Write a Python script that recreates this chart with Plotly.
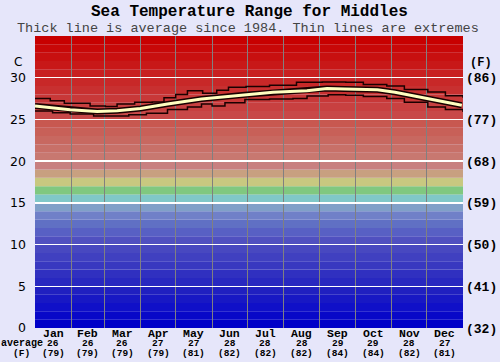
import plotly.graph_objects as go

# ---------------- data ----------------
months = ["Jan", "Feb", "Mar", "Apr", "May", "Jun", "Jul", "Aug", "Sep", "Oct", "Nov", "Dec"]
month_avg_c = ["26", "26", "26", "27", "27", "28", "28", "28", "29", "29", "28", "27"]
month_avg_f = ["(79)", "(79)", "(79)", "(79)", "(81)", "(82)", "(82)", "(82)", "(84)", "(84)", "(82)", "(81)"]
month_start_day = [0, 31, 59, 90, 120, 151, 181, 212, 243, 273, 304, 334, 365]

c_ticks = [0, 5, 10, 15, 20, 25, 30]
f_tick_labels = ["(32)", "(41)", "(50)", "(59)", "(68)", "(77)", "(86)"]

avg_day = [0, 13, 30, 53, 70, 90, 113, 142, 179, 203, 232, 249, 264, 292, 307, 335, 364]
avg_temp = [26.6, 26.4, 26.15, 25.95, 26.05, 26.3, 26.85, 27.45, 27.95, 28.25, 28.45, 28.7, 28.65, 28.55, 28.25, 27.45, 26.7]

max_day = [0, 13, 25, 47, 60, 70, 85, 100, 110, 120, 130, 143, 155, 165, 180, 200, 223, 245, 265, 280, 300, 315, 335, 350, 365]
max_temp = [27.5, 27.25, 26.95, 26.6, 26.55, 26.85, 27.05, 27.1, 27.6, 28.0, 28.45, 28.15, 28.5, 28.85, 28.95, 29.1, 29.45, 29.5, 29.45, 29.2, 29.0, 28.6, 28.3, 27.85, 27.6]

min_day = [0, 15, 30, 50, 65, 80, 95, 113, 130, 142, 151, 162, 179, 200, 220, 232, 250, 265, 280, 300, 315, 335, 350, 365]
min_temp = [26.0, 25.8, 25.65, 25.4, 25.4, 25.55, 25.75, 26.2, 26.5, 26.85, 26.6, 27.0, 27.4, 27.45, 27.5, 27.8, 27.95, 27.9, 27.75, 27.5, 27.05, 26.5, 26.2, 25.9]

# background temperature band colours (one per degree, 0..35 C)
band_colors = [
    "#0000c8", "#0808c8", "#1010c8", "#1818c4", "#2020c0", "#2828c0", "#3030c0", "#3838c0",
    "#4040c0", "#4848c0", "#5050c0", "#5860c4", "#6070c4", "#7080c8", "#80a0c8", "#80c8c8",
    "#80c880", "#c8c880", "#c8a080", "#c88080", "#c87870", "#c87068", "#c86860", "#c86058",
    "#c85850", "#c84848", "#c84040", "#c83838", "#c83030", "#c82828", "#c82020", "#c81818",
    "#c81010", "#c80808", "#c80000",
]

MONO = "Liberation Mono, DejaVu Sans Mono, monospace"
SANS = "DejaVu Sans, Verdana, sans-serif"

L, R, T, B = 35, 37, 36, 34
W, H = 500, 362
pw, ph = W - L - R, H - T - B


def px(x):
    return (x - L) / pw


def py(y):
    return (H - B - y) / ph


fig = go.Figure()

# band background
for i, col in enumerate(band_colors):
    fig.add_shape(type="rect", xref="x", yref="y", x0=0, x1=365, y0=i, y1=i + 1,
                  fillcolor=col, line_width=0, layer="below")

# extremes
fig.add_trace(go.Scatter(x=max_day, y=max_temp, mode="lines", line=dict(color="#1a0000", width=1.5, shape="hv"),
                         hoverinfo="skip", showlegend=False))
fig.add_trace(go.Scatter(x=min_day, y=min_temp, mode="lines", line=dict(color="#1a0000", width=1.5, shape="hv"),
                         hoverinfo="skip", showlegend=False))
# average: outline + fill
fig.add_trace(go.Scatter(x=avg_day, y=avg_temp, mode="lines", line=dict(color="#1a0000", width=6),
                         hoverinfo="skip", showlegend=False))
fig.add_trace(go.Scatter(x=avg_day, y=avg_temp, mode="lines", line=dict(color="#ffffc0", width=3),
                         hoverinfo="skip", showlegend=False))
# invisible trace for right axis
fig.add_trace(go.Scatter(x=[0], y=[0], yaxis="y2", mode="markers", marker=dict(opacity=0),
                         hoverinfo="skip", showlegend=False))

month_centers = [(month_start_day[i] + month_start_day[i + 1]) / 2 for i in range(12)]

annotations = []
for i in range(12):
    annotations.append(dict(x=month_centers[i], y=0, xref="x", yref="paper", yanchor="middle",
                            yshift=-5.5, text="<b>" + months[i] + "</b>", showarrow=False, borderpad=0,
                            font=dict(family=MONO, size=11.5, color="black")))
    annotations.append(dict(x=month_centers[i], y=0, xref="x", yref="paper", yanchor="middle",
                            yshift=-15.5, text="<b>" + month_avg_c[i] + "</b>", showarrow=False, borderpad=0,
                            font=dict(family=MONO, size=9.5, color="black")))
    annotations.append(dict(x=month_centers[i], y=0, xref="x", yref="paper", yanchor="middle",
                            yshift=-25, text="<b>" + month_avg_f[i] + "</b>", showarrow=False, borderpad=0,
                            font=dict(family=MONO, size=9.5, color="black")))

annotations += [
    dict(x=px(22), y=py(343.5), xref="paper", yref="paper", text="<b>average</b>", showarrow=False, borderpad=0,
         font=dict(family=MONO, size=10, color="black"), xanchor="center", yanchor="middle"),
    dict(x=px(21), y=py(353), xref="paper", yref="paper", text="<b>(F)</b>", showarrow=False, borderpad=0,
         font=dict(family=MONO, size=9.5, color="black"), xanchor="center", yanchor="middle"),
    dict(x=px(18), y=py(62), xref="paper", yref="paper", text="C", showarrow=False,
         font=dict(family=SANS, size=12, color="black"), xanchor="center", yanchor="middle"),
    dict(x=px(481), y=py(63), xref="paper", yref="paper", text="<b>(F)</b>", showarrow=False,
         font=dict(family=MONO, size=12, color="black"), xanchor="center", yanchor="middle"),
    dict(x=px(249), y=py(12), xref="paper", yref="paper", text="<b>Sea Temperature Range for Middles</b>",
         showarrow=False, borderpad=0, font=dict(family=MONO, size=16, color="black"),
         xanchor="center", yanchor="middle"),
    dict(x=px(248), y=py(28.5), xref="paper", yref="paper",
         text="Thick line is average since 1984. Thin lines are extremes", borderpad=0,
         showarrow=False, font=dict(family=MONO, size=13.5, color="#444444"), xanchor="center", yanchor="middle"),
]

fig.update_layout(
    width=W, height=H,
    margin=dict(l=L, r=R, t=T, b=B, autoexpand=False),
    paper_bgcolor="#e6e6fa",
    plot_bgcolor="#e6e6fa",
    showlegend=False,
    xaxis=dict(range=[0, 365], showticklabels=False, ticks="", showgrid=False, zeroline=False,
               showline=False, automargin=False,
               minor=dict(tickvals=month_start_day[1:-1], showgrid=True, gridcolor="#808080", gridwidth=1, ticks="")),
    yaxis=dict(range=[0, 35], tickvals=c_ticks, showgrid=True, gridcolor="white", gridwidth=1.5,
               zeroline=False, ticks="", tickfont=dict(family=SANS, size=12.5, color="black"),
               ticklabelstandoff=8, showline=False, automargin=False),
    yaxis2=dict(range=[0, 35], overlaying="y", side="right", tickvals=c_ticks, ticktext=f_tick_labels,
                showgrid=False, zeroline=False, ticks="", automargin=False,
                tickfont=dict(family=MONO, size=13, color="black", weight="bold"), ticklabelstandoff=2),
    annotations=annotations,
)

fig.write_html("out.html", config={"displayModeBar": False, "staticPlot": True},
               post_script="document.body.style.margin='0';document.body.style.padding='0';")
